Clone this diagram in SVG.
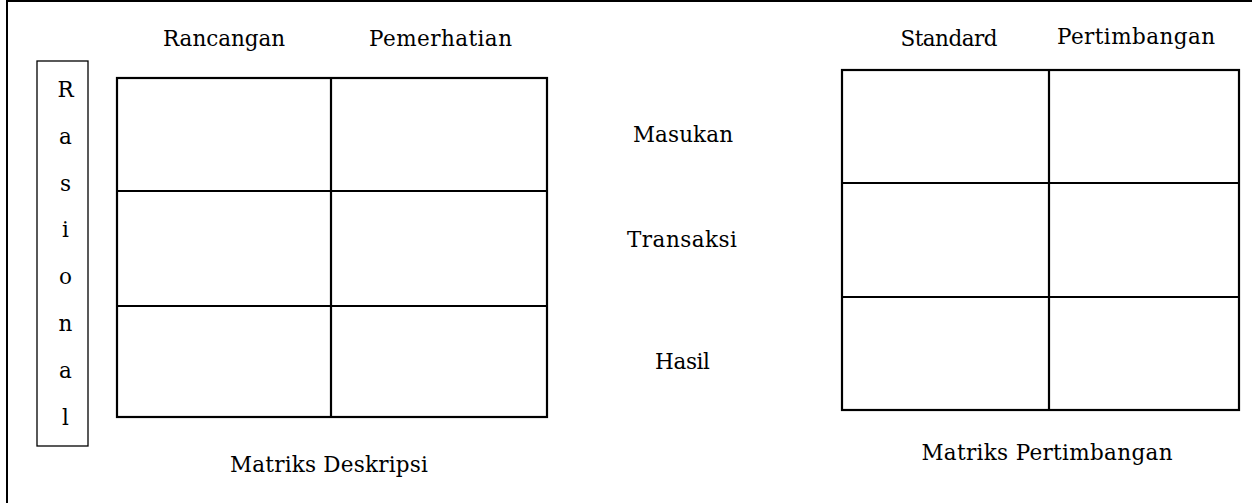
<svg xmlns="http://www.w3.org/2000/svg" width="1252" height="503" viewBox="0 0 1252 503">
<style>
.t{font-family:"DejaVu Serif","Liberation Serif",serif;font-size:21.5px;fill:#000;text-anchor:middle}
.g{fill:none;stroke:#000;stroke-width:2.2}
.b{fill:none;stroke:#000}
</style>
<rect x="0" y="0" width="1252" height="503" fill="#fff"/>
<rect id="frame" class="b" x="7" y="1" width="1270" height="530" stroke-width="2"/>
<g id="rasional">
<rect class="b" x="37" y="61" width="51" height="385" stroke-width="1.3"/>
<text class="t" x="65.5" y="97">R</text>
<text class="t" x="65.5" y="144">a</text>
<text class="t" x="65.5" y="191">s</text>
<text class="t" x="65.5" y="237">i</text>
<text class="t" x="65.5" y="284">o</text>
<text class="t" x="65.5" y="331">n</text>
<text class="t" x="65.5" y="378">a</text>
<text class="t" x="65.5" y="425">l</text>
</g>
<g id="matriks-deskripsi">
<rect class="g" x="117" y="78" width="430" height="339"/>
<line class="g" x1="331" y1="78" x2="331" y2="417"/>
<line class="g" x1="117" y1="191" x2="547" y2="191"/>
<line class="g" x1="117" y1="306" x2="547" y2="306"/>
<text class="t" x="224" y="46" textLength="122">Rancangan</text>
<text class="t" x="440.5" y="46" textLength="143">Pemerhatian</text>
<text class="t" x="329" y="472" textLength="198">Matriks Deskripsi</text>
</g>
<g id="baris">
<text class="t" x="683" y="142" textLength="100">Masukan</text>
<text class="t" x="682" y="247" textLength="110">Transaksi</text>
<text class="t" x="682.5" y="369" textLength="55">Hasil</text>
</g>
<g id="matriks-pertimbangan">
<rect class="g" x="842" y="70" width="397" height="340"/>
<line class="g" x1="1049" y1="70" x2="1049" y2="410"/>
<line class="g" x1="842" y1="183" x2="1239" y2="183"/>
<line class="g" x1="842" y1="297" x2="1239" y2="297"/>
<text class="t" x="949" y="46" textLength="97">Standard</text>
<text class="t" x="1136" y="44" textLength="158">Pertimbangan</text>
<text class="t" x="1047" y="460" textLength="251">Matriks Pertimbangan</text>
</g>
</svg>
